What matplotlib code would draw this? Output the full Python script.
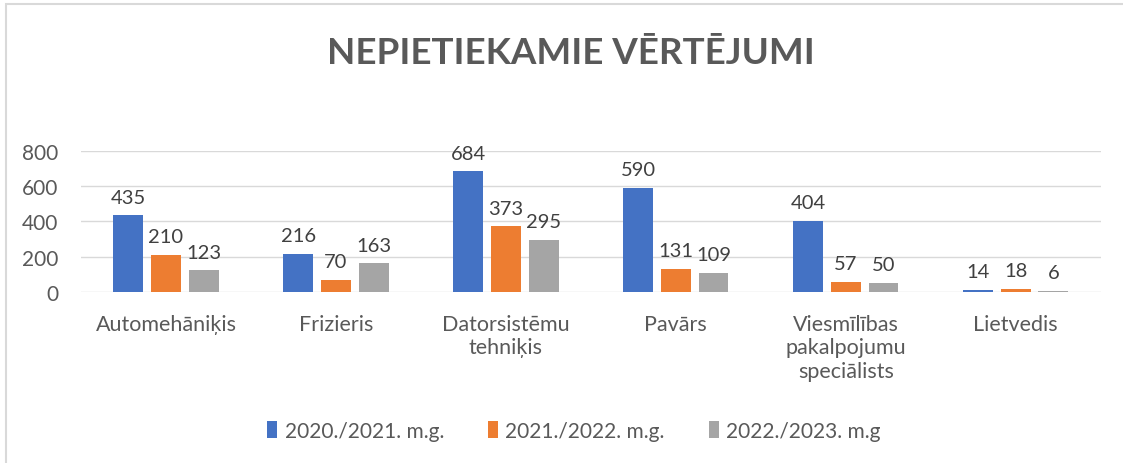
import matplotlib
matplotlib.use("Agg")
import matplotlib.pyplot as plt
from matplotlib.patches import Rectangle
import numpy as np

categories = [
    "Automehāniķis",
    "Frizieris",
    "Datorsistēmu\ntehniķis",
    "Pavārs",
    "Viesmīlības\npakalpojumu\nspeciālists",
    "Lietvedis",
]
series_names = ["2020./2021. m.g.", "2021./2022. m.g.", "2022./2023. m.g"]
values_2021 = [435, 216, 684, 590, 404, 14]
values_2022 = [210, 70, 373, 131, 57, 18]
values_2023 = [123, 163, 295, 109, 50, 6]
colors = ["#4472C4", "#ED7D31", "#A5A5A5"]

TEXT = "#595959"
plt.rcParams["font.family"] = ["Lato", "DejaVu Sans"]

fig = plt.figure(figsize=(11.23, 4.64), dpi=100)
ax = fig.add_axes([0.0721, 0.3685, 0.908, 0.304])

x = np.arange(len(categories))
width = 0.176
step = 0.222
for i, (vals, name, col) in enumerate(zip([values_2021, values_2022, values_2023], series_names, colors)):
    bars = ax.bar(x + (i - 1) * step, vals, width, color=col, label=name, zorder=3)
    for b, v in zip(bars, vals):
        ax.annotate(str(v), (b.get_x() + b.get_width() / 2, v), xytext=(0, 7),
                    textcoords="offset points", ha="center", va="bottom",
                    fontsize=14.5, color="#404040")

ax.set_xlim(-0.5, len(categories) - 0.5)
ax.set_ylim(0, 800)
ax.set_yticks([0, 200, 400, 600, 800])
ax.set_xticks(x)
ax.set_xticklabels(categories, fontsize=15.5, color=TEXT, linespacing=1.2)
ax.tick_params(axis="y", labelsize=15, labelcolor=TEXT, length=0, pad=16.5)
ax.tick_params(axis="x", length=0, pad=16)
ax.grid(axis="y", color="#D9D9D9", linewidth=1, zorder=0)
for s in ax.spines.values():
    s.set_visible(False)

fig.text(0.5085, 0.885, "NEPIETIEKAMIE VĒRTĒJUMI", ha="center", va="center",
         fontsize=26.5, fontweight="bold", color=TEXT)

fig.legend(loc="center", bbox_to_anchor=(0.511, 0.069), ncol=3, frameon=False,
           fontsize=15, labelcolor=TEXT, handlelength=0.5, handleheight=0.9,
           handletextpad=0.35, columnspacing=2.1)

fig.patches.append(Rectangle((6 / 1123, -0.1), 1.2, 1 - 5 / 464 + 0.1,
                             transform=fig.transFigure, fill=False,
                             edgecolor="#D9D9D9", linewidth=1.5))

fig.savefig("out.png", dpi=100)
